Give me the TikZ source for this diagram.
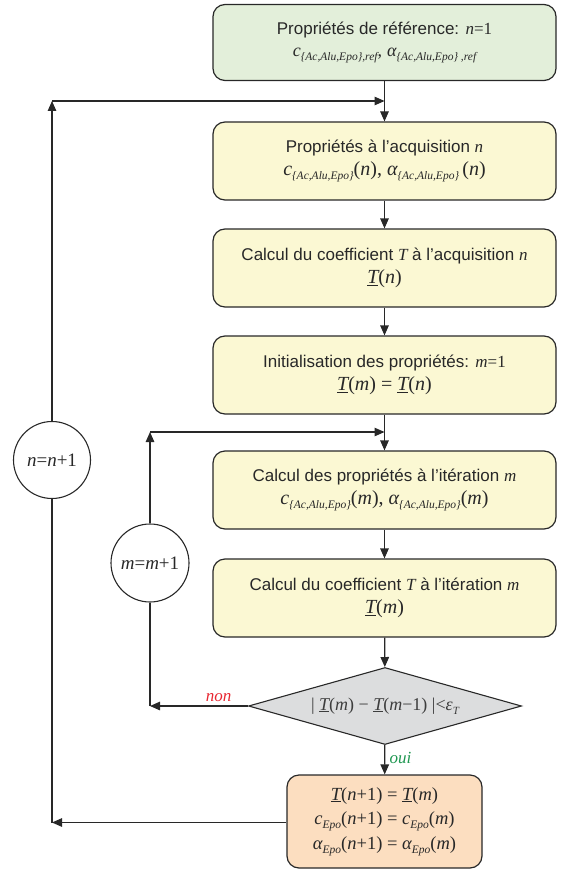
\documentclass[tikz,border=0pt]{standalone}
\usepackage{fontspec}
\setmainfont{Liberation Sans}
\newfontfamily\tmfont{Liberation Serif}
\usetikzlibrary{arrows.meta,shapes.geometric}
\definecolor{fgreen}{RGB}{227,239,218}
\definecolor{fyellow}{RGB}{251,248,211}
\definecolor{fgrey}{RGB}{220,221,222}
\definecolor{forange}{RGB}{252,222,192}
\definecolor{lred}{RGB}{232,40,50}
\definecolor{lgreen}{RGB}{30,150,80}
\definecolor{ink}{RGB}{40,40,40}
\newcommand\mi[1]{{\tmfont\itshape #1}}
\newcommand\rmn[1]{{\tmfont #1}}
\newcommand\sbs[1]{\raisebox{-0.45ex}{\fontsize{11.5}{12}\selectfont\tmfont\itshape #1}}
\newcommand\uT{\underline{\mi{T}}}
\newcommand\mathline{\fontsize{20}{23}\selectfont}
\tikzset{
  stepbox/.style={draw=ink, line width=1.2pt, rounded corners=12pt, fill=fyellow,
    minimum width=343pt, minimum height=78pt, align=center, text=ink,
    font=\fontsize{17}{23}\selectfont, inner sep=0pt},
  loopcirc/.style={draw=ink, line width=1.1pt, circle, fill=white, minimum size=77pt,
    inner sep=0pt, text=ink, font=\fontsize{19}{22}\selectfont\tmfont},
  arr/.style={draw=ink, line width=1.2pt, -{Triangle[length=10pt,width=8.5pt]}},
  ln/.style={draw=ink, line width=1.2pt},
}
\begin{document}
\begin{tikzpicture}[x=1pt,y=-1pt]
\useasboundingbox (0,0) rectangle (561,872);
\node[stepbox, fill=fgreen, minimum height=76pt] (b1) at (384.5,42.5)
  {Propriétés de référence: \mi{n}\rmn{=1}\\[-1pt]
   {\fontsize{18}{20}\selectfont\mi{c}\sbs{\{Ac,Alu,Epo\},ref}\rmn{,} \mi{α}\sbs{\{Ac,Alu,Epo\} ,ref}}};
\node[stepbox] (b2) at (384.5,161)
  {Propriétés à l’acquisition \mi{n}\\
   {\mathline\mi{c}\sbs{\{Ac,Alu,Epo\}}\rmn{(}\mi{n}\rmn{), }\mi{α}\sbs{\{Ac,Alu,Epo\}}\,\rmn{(}\mi{n}\rmn{)}}};
\node[stepbox] (b3) at (384.5,268)
  {Calcul du coefficient \mi{T} à l’acquisition \mi{n}\\
   {\mathline\uT\rmn{(}\mi{n}\rmn{)}}};
\node[stepbox] (b4) at (384.5,375)
  {Initialisation des propriétés: \mi{m}\rmn{=1}\\
   {\mathline\uT\rmn{(}\mi{m}\rmn{) = }\uT\rmn{(}\mi{n}\rmn{)}}};
\node[stepbox] (b5) at (384.5,490)
  {Calcul des propriétés à l’itération \mi{m}\\
   {\mathline\mi{c}\sbs{\{Ac,Alu,Epo\}}\rmn{(}\mi{m}\rmn{), }\mi{α}\sbs{\{Ac,Alu,Epo\}}\rmn{(}\mi{m}\rmn{)}}};
\node[stepbox] (b6) at (384.5,598)
  {Calcul du coefficient \mi{T} à l’itération \mi{m}\\
   {\mathline\uT\rmn{(}\mi{m}\rmn{)}}};
\node[diamond, draw=ink, line width=1.1pt, fill=fgrey, aspect=3.5, minimum width=273pt,
  minimum height=77pt, inner sep=0pt, text=ink!90, font=\fontsize{18}{20}\selectfont\tmfont] (d) at (385,706)
  {| \uT(\mi{m}) − \uT(\mi{m}−1) |<\mi{ε}\raisebox{-0.5ex}{\fontsize{11}{11}\selectfont\itshape T}};
\node[stepbox, fill=forange, minimum width=195pt, minimum height=93pt,
  font=\fontsize{18.5}{24.5}\selectfont\tmfont] (b7) at (384.5,821.5)
  {\uT(\mi{n}+1) = \uT(\mi{m})\\
   \mi{c}\sbs{Epo}(\mi{n}+1) = \mi{c}\sbs{Epo}(\mi{m})\\
   \mi{α}\sbs{Epo}(\mi{n}+1) = \mi{α}\sbs{Epo}(\mi{m})};
\node[loopcirc] (cn) at (52,460) {\mi{n}=\mi{n}+1};
\node[loopcirc, minimum size=78pt] (cm) at (150,563) {\mi{m}=\mi{m}+1};
\coordinate (j1) at (384.5,101);
\coordinate (j2) at (384.5,432);
\coordinate (cnt) at (52,101);
\coordinate (cnb) at (52,822.5);
\coordinate (cmt) at (150,432);
\coordinate (cmb) at (150,706);
\draw[arr] (b1) -- (b2);
\draw[arr] (b2) -- (b3);
\draw[arr] (b3) -- (b4);
\draw[arr] (b4) -- (b5);
\draw[arr] (b5) -- (b6);
\draw[arr] (b6) -- (d);
\draw[arr] (d) -- node[pos=0.45, right=1pt, text=lgreen, font=\fontsize{17}{20}\selectfont\tmfont\itshape] (oui) {oui} (b7);
\draw[arr] (d.west) -- node[pos=0.3, above=0pt, text=lred, font=\fontsize{17}{20}\selectfont\tmfont\itshape] (non) {non} (cmb);
\draw[ln] (cmb) -- (cm.south);
\draw[arr] (cm.north) -- (cmt);
\draw[arr] (cmt) -- (j2);
\draw[arr] (b7.west |- cnb) -- (cnb);
\draw[ln] (cnb) -- (cn.south);
\draw[arr] (cn.north) -- (cnt);
\draw[arr] (cnt) -- (j1);
\end{tikzpicture}
\end{document}
